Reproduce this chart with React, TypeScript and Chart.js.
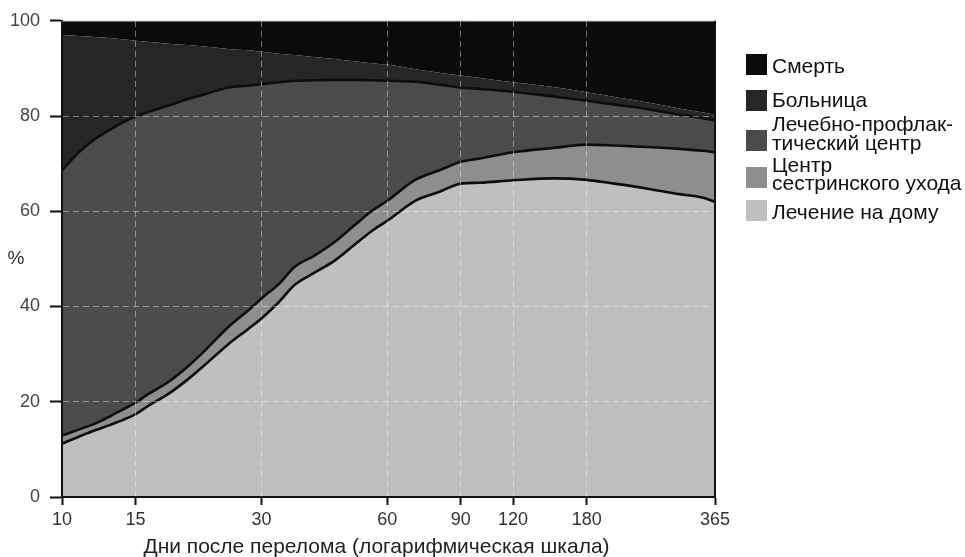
import React, { useEffect, useRef } from "react";
import { Chart, registerables } from "chart.js";

Chart.register(...registerables);

// Days after fracture (log scale)
const days = [10, 11, 12, 13, 14, 15, 16, 18, 20, 22, 25, 28, 30, 33, 36, 40, 45, 50, 55, 60, 70, 80, 90, 100, 120, 150, 180, 210, 250, 300, 340, 365];

// Cumulative upper boundary (%) of each stacked band
const homeTop = [11.2, 12.7, 14.0, 15.1, 16.2, 17.4, 19.0, 21.7, 24.7, 27.8, 32.1, 35.4, 37.5, 40.9, 44.5, 47.0, 49.7, 52.9, 55.8, 58.0, 62.2, 64.1, 65.8, 66.0, 66.5, 66.9, 66.6, 65.8, 64.8, 63.6, 62.9, 62.0];
const nursingTop = [12.9, 14.2, 15.4, 16.9, 18.4, 19.8, 21.5, 24.2, 27.4, 30.8, 35.7, 39.3, 41.7, 44.7, 48.3, 50.6, 53.6, 57.0, 60.0, 62.2, 66.6, 68.6, 70.4, 71.1, 72.4, 73.3, 74.0, 73.8, 73.5, 73.1, 72.7, 72.4];
const centerTop = [68.6, 72.5, 75.2, 77.1, 78.7, 79.9, 80.8, 82.2, 83.6, 84.6, 86.0, 86.4, 86.7, 87.1, 87.4, 87.5, 87.6, 87.6, 87.5, 87.4, 87.2, 86.6, 86.0, 85.7, 85.1, 84.1, 83.2, 82.4, 81.5, 80.3, 79.6, 79.0];
const hospitalTop = [97.0, 96.8, 96.6, 96.4, 96.1, 95.8, 95.6, 95.2, 94.9, 94.6, 94.1, 93.8, 93.5, 93.1, 92.8, 92.4, 92.0, 91.5, 91.1, 90.8, 89.8, 89.1, 88.5, 88.0, 87.1, 86.1, 85.0, 84.0, 82.9, 81.6, 80.8, 80.3];
const deathTop = [100, 100, 100, 100, 100, 100, 100, 100, 100, 100, 100, 100, 100, 100, 100, 100, 100, 100, 100, 100, 100, 100, 100, 100, 100, 100, 100, 100, 100, 100, 100, 100];

const xTickValues = [10, 15, 30, 60, 90, 120, 180, 365];
const yTickValues = [0, 20, 40, 60, 80, 100];

const legendNames = [
  ["Смерть"],
  ["Больница"],
  ["Лечебно-профлак-", "тический центр"],
  ["Центр", "сестринского ухода"],
  ["Лечение на дому"],
];
const bandColors = ["#0b0b0b", "#262626", "#4b4b4b", "#8e8e8e", "#bfbfbf"];

const xTitle = "Дни после перелома (логарифмическая шкала)";
const yTitle = "%";

const FONT = "'Liberation Sans', Arial, Helvetica, sans-serif";

// legend layout (px)
const legendSquareTops = [54, 90, 130, 167, 200];
const legendBaselines = [[72.3], [106.7], [130.7, 150], [171.7, 189.3], [218.3]];

export default function App() {
  const ref = useRef<HTMLCanvasElement>(null);

  useEffect(() => {
    document.body.style.margin = "0";
    const canvas = ref.current!;
    const mk = (arr: number[]) => days.map((d, i) => ({ x: d, y: arr[i] }));
    const gridCol = "rgba(255,255,255,0.42)";
    const clear = "rgba(0,0,0,0)";

    const framePlugin = {
      id: "frame",
      afterDraw(chart: any) {
        const { ctx, chartArea: a } = chart;
        ctx.save();
        ctx.strokeStyle = "#8a8a8a";
        ctx.lineWidth = 1;
        ctx.beginPath();
        ctx.moveTo(a.left, a.top + 0.5);
        ctx.lineTo(a.right, a.top + 0.5);
        ctx.stroke();
        ctx.strokeStyle = "#111";
        ctx.lineWidth = 2;
        ctx.beginPath();
        ctx.moveTo(a.right, a.top);
        ctx.lineTo(a.right, a.bottom);
        ctx.stroke();
        ctx.restore();
      },
    };

    const chart = new Chart(canvas, {
      type: "line",
      data: {
        datasets: [
          { label: legendNames[4].join(" "), data: mk(homeTop), fill: "origin", backgroundColor: bandColors[4], borderColor: "#0d0d0d", borderWidth: 2.6 },
          { label: legendNames[3].join(" "), data: mk(nursingTop), fill: "-1", backgroundColor: bandColors[3], borderColor: "#0d0d0d", borderWidth: 2.6 },
          { label: legendNames[2].join(""), data: mk(centerTop), fill: "-1", backgroundColor: bandColors[2], borderColor: "#0d0d0d", borderWidth: 2.6 },
          { label: legendNames[1][0], data: mk(hospitalTop), fill: "-1", backgroundColor: bandColors[1], borderColor: clear, borderWidth: 1 },
          { label: legendNames[0][0], data: mk(deathTop), fill: "-1", backgroundColor: bandColors[0], borderColor: clear, borderWidth: 1 },
        ],
      },
      options: {
        responsive: false,
        animation: false,
        devicePixelRatio: 1,
        layout: { padding: { left: 0, right: 250, top: 18, bottom: 0 } },
        elements: {
          point: { radius: 0, hoverRadius: 0 },
          line: { cubicInterpolationMode: "monotone" },
        },
        plugins: {
          legend: { display: false },
          tooltip: { enabled: false },
          filler: { drawTime: "beforeDatasetsDraw" },
        } as any,
        scales: {
          x: {
            type: "logarithmic",
            min: 10,
            max: 365,
            afterBuildTicks: (s: any) => {
              s.ticks = xTickValues.map((v) => ({ value: v }));
            },
            afterFit: (s: any) => {
              s.height = 60;
            },
            ticks: {
              autoSkip: false,
              maxRotation: 0,
              minRotation: 0,
              color: "#333",
              font: { family: FONT, size: 18 },
              padding: 4,
              callback: (v: any) => String(v),
            },
            grid: {
              color: (c: any) => (c.tick && (c.tick.value === 10 || c.tick.value === 365) ? clear : gridCol),
              lineWidth: 1,
              tickLength: 8,
              tickColor: "#111",
              tickWidth: 2,
              z: 1,
            },
            border: { color: "#111", width: 2, dash: [6, 4], z: 1 },
          } as any,
          y: {
            min: 0,
            max: 100,
            afterBuildTicks: (s: any) => {
              s.ticks = yTickValues.map((v) => ({ value: v }));
            },
            afterFit: (s: any) => {
              s.width = 62;
            },
            ticks: {
              color: "#444",
              font: { family: FONT, size: 18 },
              padding: 10,
            },
            grid: {
              color: (c: any) => (c.tick && (c.tick.value === 0 || c.tick.value === 100) ? clear : gridCol),
              lineWidth: 1,
              tickLength: 12,
              tickColor: "#111",
              tickWidth: 2,
              z: 1,
            },
            border: { color: "#111", width: 2, dash: [6, 4], z: 1 },
          } as any,
        },
      },
      plugins: [framePlugin],
    });
    return () => chart.destroy();
  }, []);

  return (
    <div style={{ position: "relative", width: 965, height: 557, fontFamily: FONT, background: "#fff" }}>
      <canvas ref={ref} width={965} height={557} style={{ display: "block", width: 965, height: 557 }} />
      <div style={{ position: "absolute", left: 0, width: 32, top: 248, fontSize: 19, lineHeight: "19px", color: "#333", textAlign: "center" }}>{yTitle}</div>
      <div style={{ position: "absolute", left: 376.5, top: 535, transform: "translateX(-50%)", whiteSpace: "nowrap", fontSize: 21, lineHeight: "21px", color: "#222" }}>{xTitle}</div>
      {legendNames.map((lines, i) => (
        <React.Fragment key={i}>
          <div style={{ position: "absolute", left: 746, top: legendSquareTops[i], width: 21, height: 21, background: bandColors[i] }} />
          {lines.map((t, j) => (
            <div key={j} style={{ position: "absolute", left: 772, top: legendBaselines[i][j] - 17.8, fontSize: 21, lineHeight: "21px", whiteSpace: "nowrap", color: "#111" }}>{t}</div>
          ))}
        </React.Fragment>
      ))}
    </div>
  );
}
